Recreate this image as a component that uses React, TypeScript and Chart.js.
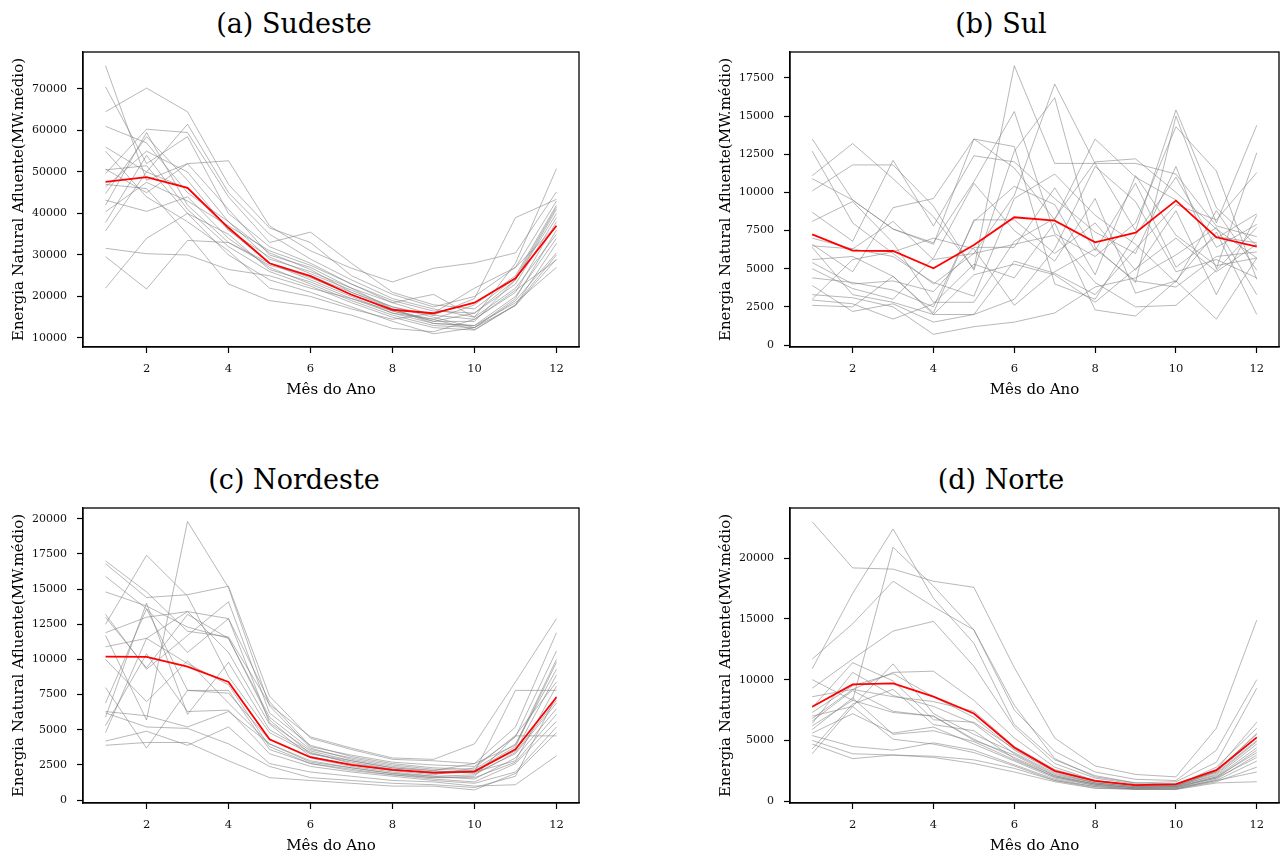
import { useEffect, useRef } from "react";
import { Chart, registerables } from "chart.js";

Chart.register(...registerables);

// Months of the year (x axis) and the ticks shown on it
const months = [1, 2, 3, 4, 5, 6, 7, 8, 9, 10, 11, 12];
const monthTicks = [2, 4, 6, 8, 10, 12];

// Sudeste: one series per historical year, plus the average
const sudesteYears: number[][] = [
  [75600, 48000, 52000, 41000, 30000, 27000, 22000, 18500, 15500, 14500, 21000, 38000],
  [70500, 52000, 58500, 40000, 32000, 28000, 23000, 19000, 16500, 16000, 24000, 41000],
  [64500, 70200, 64500, 47000, 36500, 33000, 25000, 20500, 17500, 20000, 27000, 43000],
  [61000, 57000, 45000, 38000, 30500, 26500, 21000, 17500, 15000, 12500, 19500, 36000],
  [56000, 50000, 61500, 45000, 35000, 29000, 24000, 19500, 17000, 15000, 22000, 35000],
  [50700, 45000, 52000, 52700, 37000, 31000, 26800, 23500, 26800, 28100, 30500, 45200],
  [49600, 60300, 59500, 44000, 33000, 35500, 28000, 21000, 18000, 17000, 24500, 41500],
  [46400, 55000, 50000, 38000, 29000, 26000, 22000, 17000, 13500, 13000, 20000, 34000],
  [44800, 58500, 48000, 36000, 28000, 24000, 20000, 16000, 14500, 12000, 18000, 30000],
  [43200, 40500, 44000, 34000, 27000, 23000, 19000, 15500, 13000, 12500, 17800, 29000],
  [42000, 59500, 42000, 33000, 27500, 25000, 21000, 17000, 14000, 16000, 23000, 39000],
  [40400, 47500, 43000, 37000, 31000, 27500, 23000, 18500, 20500, 15000, 28000, 50800],
  [37800, 54000, 41000, 32000, 26000, 22500, 18500, 15000, 12500, 11900, 17900, 32800],
  [35800, 50000, 46000, 36000, 29500, 25500, 21500, 17500, 15500, 19500, 39000, 43400],
  [31600, 30300, 30000, 26500, 25000, 22000, 19500, 16000, 13500, 13000, 18500, 27000],
  [29600, 21800, 33500, 33000, 28000, 24500, 20500, 16500, 14000, 14000, 24000, 40000],
  [22000, 34000, 40000, 30000, 24000, 21000, 17500, 14000, 11000, 12500, 19000, 30500],
  [47000, 46000, 35000, 23000, 19000, 17700, 15500, 12300, 11500, 14500, 21500, 28800],
  [55000, 44000, 38000, 31000, 22000, 20000, 17000, 14500, 16000, 22000, 27000, 37000],
  [50500, 51500, 40000, 35000, 26500, 23500, 19500, 16500, 14500, 18000, 25000, 42000],
];
const sudesteMean = [47600, 48750, 46170, 36550, 28000, 24900, 20420, 16800, 15960, 18500, 24370, 37030];
const sudesteTicks = [10000, 20000, 30000, 40000, 50000, 60000, 70000];

// Sul
const sulYears: number[][] = [
  [13500, 9500, 7600, 6600, 13500, 11600, 8200, 13500, 11000, 9500, 7000, 8600],
  [12700, 8000, 6000, 4000, 6000, 9800, 17100, 11900, 7500, 15400, 9000, 6500],
  [11100, 13200, 10900, 8400, 5000, 18300, 11900, 11900, 11900, 11200, 7800, 7100],
  [10900, 9500, 7600, 6700, 10700, 15300, 7300, 5800, 8000, 14300, 11400, 4300],
  [10100, 11800, 11800, 9100, 4900, 12700, 16200, 6400, 4100, 15000, 8000, 14400],
  [8700, 6800, 12100, 7800, 12400, 12000, 9600, 7400, 6000, 11700, 5000, 12600],
  [8100, 9400, 6700, 2800, 2800, 6800, 8300, 12000, 12200, 10000, 7600, 5700],
  [6600, 4800, 9000, 9600, 13500, 13000, 4000, 3000, 7200, 11000, 6400, 7900],
  [6400, 3300, 2800, 2000, 2000, 5500, 4700, 3300, 6300, 9200, 8200, 11300],
  [5600, 5800, 4500, 2100, 8200, 8200, 6000, 8000, 4900, 8800, 3300, 8500],
  [5400, 4000, 4200, 3500, 6400, 6400, 10300, 6200, 10600, 5100, 7100, 6700],
  [5000, 3700, 3000, 5700, 10600, 7500, 5500, 9600, 3400, 4200, 7400, 2000],
  [4400, 4100, 3600, 2500, 8100, 10400, 9200, 4600, 11100, 7200, 5200, 5700],
  [3900, 2200, 2700, 1500, 2000, 3000, 6300, 11700, 9400, 4800, 5600, 4400],
  [3300, 3100, 2500, 700, 1200, 1500, 2100, 3800, 4400, 5900, 7700, 3300],
  [2950, 2700, 1700, 2700, 5300, 4400, 8000, 2300, 1900, 4200, 1700, 5700],
  [2600, 2500, 4500, 2000, 4600, 5300, 4600, 2800, 5000, 7000, 4800, 6600],
  [7000, 6300, 8100, 5600, 6000, 6600, 7200, 4100, 2500, 2600, 4900, 7700],
  [6500, 6300, 5800, 4100, 3200, 9600, 11200, 8500, 6600, 4100, 8800, 4900],
  [3000, 5600, 6100, 7000, 6300, 2600, 4800, 6300, 4200, 3800, 5800, 6100],
];
const sulMean = [7255, 6180, 6160, 5025, 6555, 8370, 8150, 6730, 7360, 9460, 7060, 6440];
const sulTicks = [0, 2500, 5000, 7500, 10000, 12500, 15000, 17500];

// Nordeste
const nordesteYears: number[][] = [
  [17000, 14800, 12000, 11600, 6800, 4500, 3700, 3000, 2900, 4000, 8400, 12900],
  [16800, 14400, 14600, 15200, 7400, 4400, 3600, 2900, 2800, 2600, 5200, 11900],
  [15900, 13600, 10500, 12900, 7000, 3800, 3200, 2700, 2500, 2400, 4500, 10600],
  [14800, 13800, 12300, 11500, 5900, 3600, 3000, 2500, 2200, 2100, 3800, 9800],
  [13200, 9300, 11700, 14100, 6200, 3900, 3100, 2600, 2300, 2200, 4000, 9300],
  [12500, 17400, 14500, 8800, 4800, 3300, 2700, 2200, 1900, 2000, 7800, 7800],
  [11900, 13000, 13400, 12900, 5500, 3500, 2800, 2300, 2000, 2100, 3500, 8900],
  [11700, 5700, 19800, 15100, 6700, 3700, 2900, 2400, 2100, 1900, 3300, 6900],
  [10900, 11500, 13400, 10500, 5400, 3100, 2500, 2100, 1800, 2300, 4600, 8400],
  [10000, 7000, 9900, 6900, 4000, 2800, 2300, 1900, 1700, 1500, 3000, 6500],
  [6900, 13600, 7800, 7800, 3600, 2600, 2100, 1800, 1500, 1300, 2600, 5600],
  [6300, 6000, 5200, 6300, 4000, 2700, 2300, 1900, 1600, 1700, 4570, 4570],
  [5300, 10400, 6300, 6400, 3300, 2400, 2000, 1700, 1400, 1200, 2000, 5200],
  [4800, 11500, 9700, 8200, 3800, 2600, 2200, 1800, 1600, 1600, 2700, 6100],
  [4200, 4900, 3900, 5200, 2600, 2000, 1700, 1400, 1300, 1000, 1100, 3150],
  [3900, 4100, 4100, 2800, 1600, 1400, 1200, 1000, 1000, 730, 1900, 4800],
  [6200, 5200, 5100, 4000, 2400, 1600, 1400, 1200, 1100, 900, 1700, 7400],
  [13000, 9400, 13200, 11500, 5700, 3300, 2800, 2300, 2100, 2600, 3900, 10000],
  [8000, 3700, 7800, 7600, 4300, 3000, 2400, 2000, 1700, 1800, 3400, 7100],
  [5900, 14000, 6100, 9800, 5000, 3400, 2600, 2200, 1900, 2000, 2800, 8100],
];
const nordesteMean = [10200, 10180, 9490, 8400, 4330, 3050, 2510, 2150, 1960, 2030, 3620, 7310];
const nordesteTicks = [0, 2500, 5000, 7500, 10000, 12500, 15000, 17500, 20000];

// Norte
const norteYears: number[][] = [
  [23000, 19200, 19100, 18100, 17600, 11000, 5200, 2900, 2200, 2000, 6000, 14900],
  [11700, 14600, 18100, 16000, 14100, 7500, 4100, 2400, 1800, 1700, 4200, 10000],
  [10900, 17100, 22400, 16700, 13000, 6300, 3400, 2100, 1500, 1600, 3200, 9300],
  [10000, 8300, 20900, 17700, 14100, 7900, 3500, 2000, 1500, 1400, 2600, 6500],
  [9300, 11700, 14000, 14800, 11100, 6100, 3100, 1900, 1400, 1300, 2800, 6000],
  [8600, 9200, 10600, 10700, 8300, 5200, 2800, 1700, 1300, 1200, 2500, 5500],
  [7700, 11400, 9900, 6700, 6500, 4300, 2500, 1600, 1300, 1300, 2300, 5000],
  [7000, 7800, 11300, 7200, 5500, 4000, 2300, 1500, 1200, 1300, 2100, 4700],
  [6800, 9200, 8600, 8200, 7400, 4500, 2600, 1700, 1300, 1400, 2400, 5200],
  [6400, 10600, 8700, 7800, 6400, 3900, 2200, 1500, 1200, 1200, 2200, 4900],
  [6200, 8300, 7300, 7000, 5100, 3600, 2100, 1400, 1100, 1200, 2000, 4400],
  [5900, 8500, 5500, 5800, 4900, 3400, 2000, 1300, 1100, 1100, 1900, 4200],
  [5600, 7200, 5600, 6100, 4700, 3300, 1900, 1300, 1000, 1000, 1800, 3800],
  [5400, 4500, 4200, 4800, 4200, 3000, 1800, 1200, 1000, 1000, 1700, 3300],
  [5000, 3900, 3800, 3700, 3400, 2700, 1700, 1100, 960, 1000, 1600, 2800],
  [4700, 3500, 3800, 3600, 3100, 2400, 1600, 1050, 1000, 960, 1500, 1600],
  [3900, 7800, 5100, 4700, 4000, 2900, 1700, 1200, 1000, 1100, 1700, 2400],
  [6600, 9100, 7400, 7000, 5000, 3800, 2100, 1400, 1100, 1200, 1900, 3600],
  [4300, 8000, 9200, 6300, 5800, 3500, 2000, 1400, 1100, 1100, 2000, 4000],
  [7300, 9500, 10500, 8600, 6900, 4200, 2400, 1500, 1200, 1300, 2400, 5600],
];
const norteMean = [7770, 9610, 9690, 8600, 7220, 4420, 2500, 1670, 1320, 1400, 2550, 5250];
const norteTicks = [0, 5000, 10000, 15000, 20000];

const SERIF = '"DejaVu Serif", "Liberation Serif", serif';
const Y_LABEL = "Energia Natural Afluente(MW.médio)";
const X_LABEL = "Mês do Ano";

type PanelSpec = {
  title: string;
  titleCenter: number;
  titleTop: number;
  left: number;
  top: number;
  width: number;
  height: number;
  area: { l: number; t: number; r: number; b: number };
  xTitleCenter: number;
  yMin: number;
  yMax: number;
  yTicks: number[];
  years: number[][];
  mean: number[];
};

const panels: PanelSpec[] = [
  {
    title: "(a) Sudeste", titleCenter: 294, titleTop: 10,
    left: 0, top: 0, width: 643, height: 428,
    area: { l: 83, t: 52, r: 579, b: 347 }, xTitleCenter: 390,
    yMin: 7830, yMax: 78900, yTicks: sudesteTicks, years: sudesteYears, mean: sudesteMean,
  },
  {
    title: "(b) Sul", titleCenter: 1001, titleTop: 10,
    left: 707, top: 0, width: 580, height: 428,
    area: { l: 790, t: 52, r: 1279, b: 347 }, xTitleCenter: 390,
    yMin: -130, yMax: 19200, yTicks: sulTicks, years: sulYears, mean: sulMean,
  },
  {
    title: "(c) Nordeste", titleCenter: 294, titleTop: 466,
    left: 0, top: 428, width: 643, height: 428,
    area: { l: 83, t: 508, r: 579, b: 803 }, xTitleCenter: 846,
    yMin: -200, yMax: 20760, yTicks: nordesteTicks, years: nordesteYears, mean: nordesteMean,
  },
  {
    title: "(d) Norte", titleCenter: 1001, titleTop: 466,
    left: 707, top: 428, width: 580, height: 428,
    area: { l: 790, t: 508, r: 1279, b: 803 }, xTitleCenter: 846,
    yMin: -150, yMax: 24130, yTicks: norteTicks, years: norteYears, mean: norteMean,
  },
];

// Closed black frame around the plotting area
const framePlugin = {
  id: "axesFrame",
  afterDraw(chart: any) {
    const { ctx, chartArea: a } = chart;
    ctx.save();
    ctx.strokeStyle = "#000";
    ctx.lineWidth = 1.3;
    ctx.strokeRect(a.left, a.top, a.right - a.left, a.bottom - a.top);
    ctx.restore();
  },
};

function Panel({ p }: { p: PanelSpec }) {
  const ref = useRef<HTMLCanvasElement>(null);

  useEffect(() => {
    const yAxisWidth = p.area.l - p.left;
    const xAxisHeight = p.top + p.height - p.area.b;
    const titleLine = 15 * 1.2;
    const xTitlePadBottom = p.top + p.height - p.xTitleCenter - titleLine / 2;

    const datasets: any[] = [
      {
        label: "Média",
        data: p.mean,
        borderColor: "#ff0000",
        borderWidth: 1.8,
        pointRadius: 0,
        tension: 0,
        order: 0,
      },
      ...p.years.map((ys, i) => ({
        label: `Ano ${i + 1}`,
        data: ys,
        borderColor: "rgba(125,125,125,0.55)",
        borderWidth: 1,
        pointRadius: 0,
        tension: 0,
        order: 1,
      })),
    ];

    const chart = new Chart(ref.current!, {
      type: "line",
      data: { labels: months, datasets },
      options: {
        animation: false,
        responsive: false,
        devicePixelRatio: 1,
        events: [],
        layout: {
          padding: {
            left: 0,
            top: p.area.t - p.top,
            right: p.left + p.width - p.area.r,
            bottom: 0,
          },
        },
        plugins: {
          legend: { display: false },
          tooltip: { enabled: false },
          title: { display: false },
        },
        scales: {
          x: {
            type: "linear",
            min: 0.45,
            max: 12.55,
            afterBuildTicks: (s: any) => {
              s.ticks = monthTicks.map((v) => ({ value: v }));
            },
            afterFit: (s: any) => {
              s.height = xAxisHeight;
            },
            grid: {
              drawOnChartArea: false,
              drawTicks: true,
              tickLength: 6,
              tickColor: "#000",
              tickWidth: 1.2,
            },
            border: { display: true, color: "#000", width: 1.3 },
            ticks: {
              padding: 9,
              color: "#111",
              font: { family: SERIF, size: 11.5 },
              maxRotation: 0,
              autoSkip: false,
            },
            title: {
              display: true,
              text: X_LABEL,
              color: "#000",
              font: { family: SERIF, size: 15 },
              padding: { top: 0, bottom: xTitlePadBottom },
            },
          },
          y: {
            type: "linear",
            min: p.yMin,
            max: p.yMax,
            afterBuildTicks: (s: any) => {
              s.ticks = p.yTicks.map((v) => ({ value: v }));
            },
            afterFit: (s: any) => {
              s.width = yAxisWidth;
            },
            grid: {
              drawOnChartArea: false,
              drawTicks: true,
              tickLength: 6,
              tickColor: "#000",
              tickWidth: 1.2,
            },
            border: { display: true, color: "#000", width: 1.3 },
            ticks: {
              padding: 10,
              color: "#111",
              font: { family: SERIF, size: 11 },
              autoSkip: false,
              callback: (v: any) => String(v),
            },
            title: {
              display: true,
              text: Y_LABEL,
              color: "#000",
              font: { family: SERIF, size: 15 },
              padding: { top: 10, bottom: 0 },
            },
          },
        },
      },
      plugins: [framePlugin],
    });

    return () => chart.destroy();
  }, [p]);

  return (
    <>
      <div
        style={{
          position: "absolute",
          left: p.titleCenter - 200,
          top: p.titleTop,
          width: 400,
          textAlign: "center",
          fontFamily: SERIF,
          fontSize: 27,
          lineHeight: "27px",
          color: "#000",
          whiteSpace: "nowrap",
        }}
      >
        {p.title}
      </div>
      <canvas
        ref={ref}
        width={p.width}
        height={p.height}
        style={{ position: "absolute", left: p.left, top: p.top, width: p.width, height: p.height }}
      />
    </>
  );
}

export default function App() {
  return (
    <div
      style={{
        position: "absolute",
        left: 0,
        top: 0,
        width: 1287,
        height: 856,
        background: "#fff",
        overflow: "hidden",
      }}
    >
      {panels.map((p) => (
        <Panel key={p.title} p={p} />
      ))}
    </div>
  );
}
